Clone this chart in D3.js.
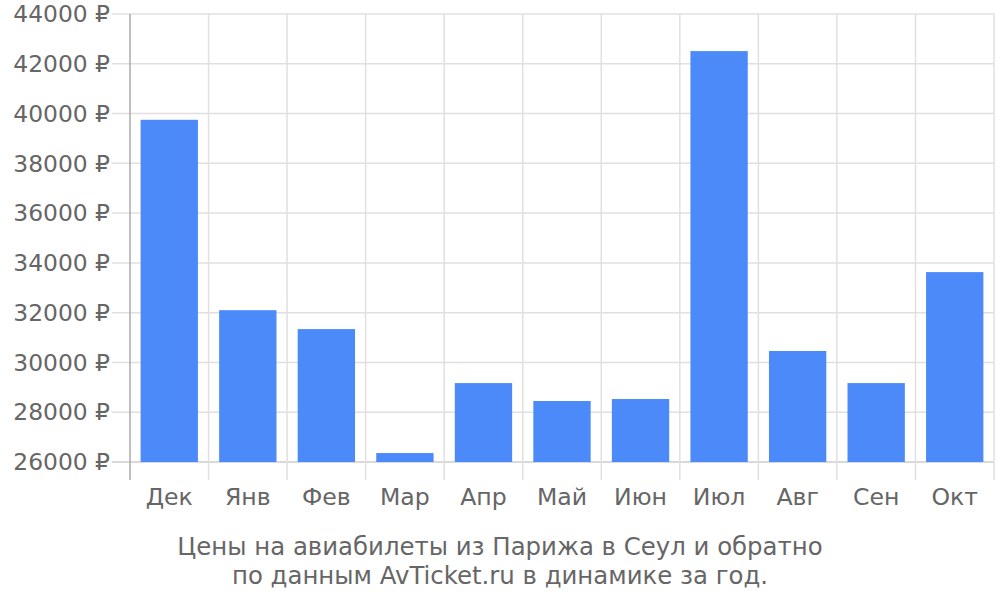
<!DOCTYPE html>
<html><head><meta charset="utf-8">
<script src="https://cdn.jsdelivr.net/npm/d3@7"></script>
<style>body{margin:0;background:#fff}svg{display:block}</style>
</head><body>
<svg id="c" width="1000" height="600"></svg>
<script>
const categories = ["Дек","Янв","Фев","Мар","Апр","Май","Июн","Июл","Авг","Сен","Окт"];
const values = [39750, 32100, 31340, 26360, 29170, 28450, 28530, 42510, 30460, 29170, 33630];
const yTicks = [26000,28000,30000,32000,34000,36000,38000,40000,42000,44000];
const titleLines = ["Цены на авиабилеты из Парижа в Сеул и обратно","по данным AvTicket.ru в динамике за год."];

(function(){
const svg = d3.select("#c");
const font = "DejaVu Sans, sans-serif";
const mLeft = 130, mRight = 994, mTop = 14, mBottom = 462;
const x = d3.scaleBand().domain(categories).range([mLeft, mRight]).paddingInner(0.27).paddingOuter(0.135);
const y = d3.scaleLinear().domain([26000, 44000]).range([mBottom, mTop]);

svg.append("g").selectAll("line").data(yTicks).join("line")
  .attr("x1", mLeft - 18).attr("x2", mRight).attr("y1", d=>y(d)).attr("y2", d=>y(d))
  .attr("stroke", d => d===26000 ? "#ccc" : "#e0e0e0").attr("stroke-width", 1.5);
const bounds = categories.map(c => x(c) - x.step()*x.paddingInner()/2);
bounds[0] = mLeft;
bounds.push(mRight);
svg.append("g").selectAll("line").data(bounds).join("line")
  .attr("x1", d=>d).attr("x2", d=>d).attr("y1", mTop).attr("y2", 480)
  .attr("stroke", (d,i)=> i===0 ? "#aaa" : "#e0e0e0").attr("stroke-width", 1.5);

svg.append("g").selectAll("rect").data(values).join("rect")
  .attr("x", (d,i)=>x(categories[i])).attr("width", x.bandwidth())
  .attr("y", d=>y(d)).attr("height", d=>y(26000)-y(d))
  .attr("fill", "#4d8af9");

svg.append("g").selectAll("text").data(yTicks).join("text")
  .attr("x", 110).attr("y", d=>y(d)).attr("dy", "0.35em")
  .attr("text-anchor", "end").attr("font-family", font).attr("font-size", 23.4)
  .attr("fill", "#666").text(d => d + " ₽");

svg.append("g").selectAll("text").data(categories).join("text")
  .attr("x", d=>x(d)+x.bandwidth()/2).attr("y", 505)
  .attr("text-anchor", "middle").attr("font-family", font).attr("font-size", 23.6)
  .attr("fill", "#666").text(d=>d);

svg.append("g").selectAll("text").data(titleLines).join("text")
  .attr("x", 500).attr("y", (d,i)=>555 + i*29)
  .attr("text-anchor", "middle").attr("font-family", font).attr("font-size", 24.4)
  .attr("fill", "#666").text(d=>d);
})();
</script>
</body></html>
